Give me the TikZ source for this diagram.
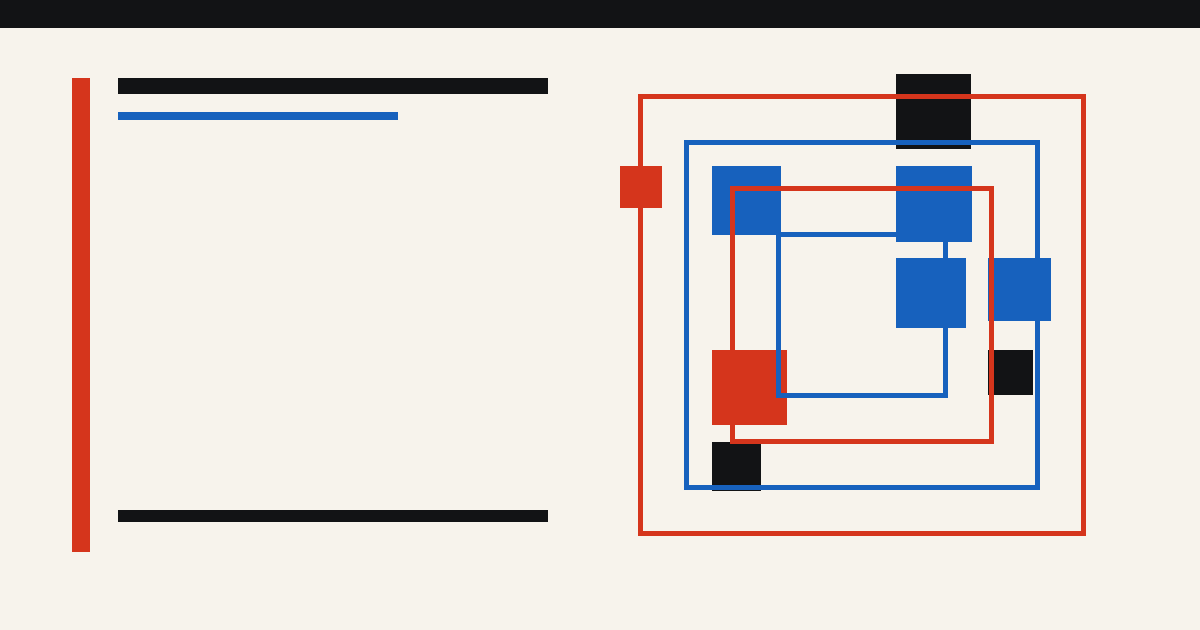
\documentclass[tikz,border=0pt]{standalone}
\usepackage{tikz}
\definecolor{paper}{RGB}{247,243,236}
\definecolor{ink}{RGB}{18,19,21}
\definecolor{vermilion}{RGB}{213,53,28}
\definecolor{cobalt}{RGB}{23,97,189}

\begin{document}
\begin{tikzpicture}[x=0.1mm, y=-0.1mm,
		redframe/.style={draw=vermilion, line width=0.5mm},
		blueframe/.style={draw=cobalt, line width=0.5mm}]
		%%%%% START %%%%%
		\useasboundingbox (0, 0) rectangle (1200, 630);
		\fill[paper] (0, 0) rectangle (1200, 630);
		\fill[ink] (0, 0) rectangle (1200, 28);
		
		% left column
		\fill[vermilion] (72, 78) rectangle (90, 552);
		\fill[ink] (118, 78) rectangle (548, 94);
		\fill[cobalt] (118, 112) rectangle (398, 120);
		\fill[ink] (118, 510) rectangle (548, 522);
		
		% black blocks
		\fill[ink] (896, 74) rectangle (971, 149);
		\fill[ink] (712, 442) rectangle (761, 491);
		\fill[ink] (988, 350) rectangle (1033, 395);
		
		% outer frames
		\draw[redframe] (640.5, 96.5) rectangle (1083.5, 533.5);
		\fill[vermilion] (620, 166) rectangle (662, 208);
		\draw[blueframe] (686.5, 142.5) rectangle (1037.5, 487.5);
		
		% blue blocks
		\fill[cobalt] (712, 166) rectangle (781, 235);
		\fill[cobalt] (896, 166) rectangle (972, 242);
		\fill[cobalt] (896, 258) rectangle (966, 328);
		\fill[cobalt] (988, 258) rectangle (1051, 321);
		
		% inner frames
		\fill[vermilion] (712, 350) rectangle (787, 425);
		\draw[blueframe] (778.5, 234.5) rectangle (945.5, 395.5);
		\draw[redframe] (732.5, 188.5) rectangle (991.5, 441.5);
		%%%%% END %%%%%
\end{tikzpicture}
\end{document}
